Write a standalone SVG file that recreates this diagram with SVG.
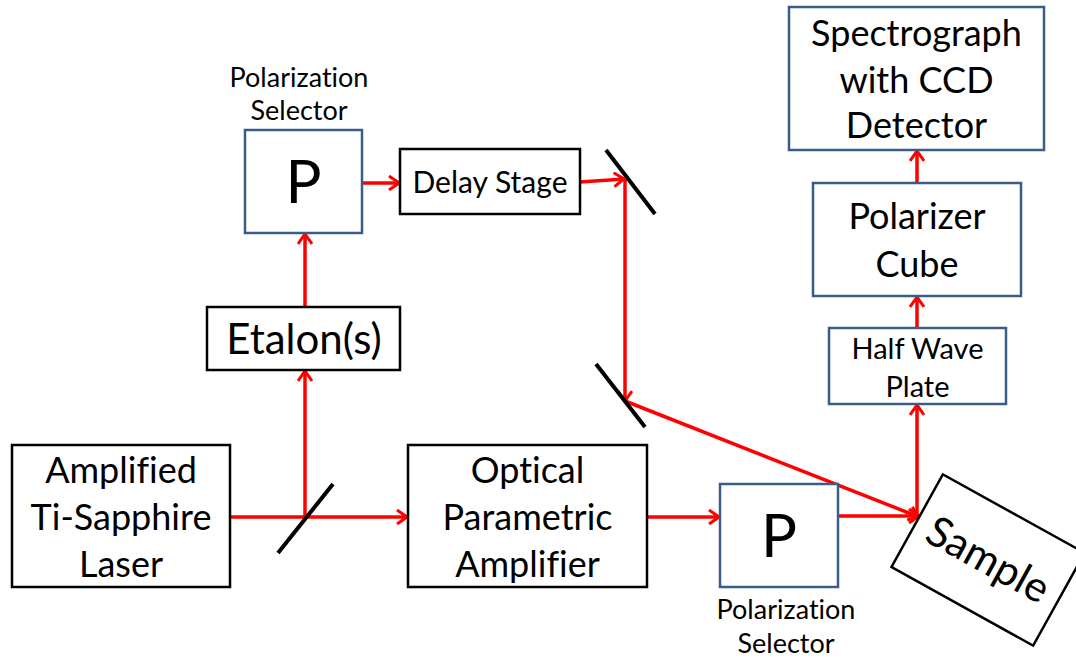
<svg xmlns="http://www.w3.org/2000/svg" width="1076" height="661" viewBox="0 0 1076 661">
<defs>
<style>
.k{fill:#fff;stroke:#000;stroke-width:2.5}
.b{fill:#fff;stroke:#385D8A;stroke-width:2.5}
.t{font-family:Lato,"Liberation Sans",sans-serif;fill:#000;text-anchor:middle;font-variant-ligatures:none}
.r{stroke:#f00;stroke-width:3.5;fill:none}
.m{stroke:#000;stroke-width:4;fill:none}
</style>
<marker id="a" viewBox="0 0 12 16" refX="11" refY="8" markerWidth="12" markerHeight="16" markerUnits="userSpaceOnUse" orient="auto">
<path d="M1,1 L11,8 L1,15" fill="none" stroke="#f00" stroke-width="3"/>
</marker>
</defs>
<rect width="1076" height="661" fill="#fff"/>
<g id="connectors">
<line class="r" x1="230" y1="517" x2="407" y2="517" marker-end="url(#a)"/>
<line class="r" x1="305" y1="517" x2="305" y2="371" marker-end="url(#a)"/>
<line class="r" x1="305" y1="307" x2="305" y2="234" marker-end="url(#a)"/>
<line class="r" x1="362" y1="183" x2="399" y2="183" marker-end="url(#a)"/>
<line class="r" x1="580" y1="182" x2="624" y2="179" marker-end="url(#a)"/>
<line class="r" x1="625" y1="179" x2="625" y2="401" marker-end="url(#a)"/>
<line class="r" x1="625" y1="401" x2="919" y2="517" marker-end="url(#a)"/>
<line class="r" x1="647" y1="517" x2="719" y2="517" marker-end="url(#a)"/>
<line class="r" x1="838" y1="516" x2="919" y2="516" marker-end="url(#a)"/>
<line class="r" x1="917" y1="517" x2="917" y2="405" marker-end="url(#a)"/>
<line class="r" x1="917" y1="328" x2="917" y2="297" marker-end="url(#a)"/>
<line class="r" x1="917" y1="183" x2="917" y2="151" marker-end="url(#a)"/>
</g>
<g id="mirrors">
<line class="m" x1="278" y1="553" x2="333" y2="484"/>
<line class="m" x1="606" y1="150" x2="655" y2="214"/>
<line class="m" x1="596" y1="364" x2="645" y2="427"/>
</g>
<g id="polsel1">
<rect class="b" x="245" y="130" width="117" height="103"/>
<text class="t" x="303.5" y="203" font-size="60">P</text>
<text class="t" x="299" y="87" font-size="27">Polarization</text>
<text class="t" x="299" y="120" font-size="27">Selector</text>
</g>
<g id="delay">
<rect class="k" x="400" y="149" width="180" height="65"/>
<text class="t" x="490" y="193" font-size="30">Delay Stage</text>
</g>
<g id="etalon">
<rect class="k" x="207" y="307" width="193" height="63"/>
<text class="t" x="304" y="354" font-size="42">Etalon(s)</text>
</g>
<g id="laser">
<rect class="k" x="12" y="445" width="218" height="142"/>
<text class="t" x="121" y="483" font-size="36">Amplified</text>
<text class="t" x="121" y="530" font-size="36">Ti-Sapphire</text>
<text class="t" x="121" y="577" font-size="36">Laser</text>
</g>
<g id="opa">
<rect class="k" x="408" y="445" width="239" height="142"/>
<text class="t" x="527.5" y="483" font-size="36">Optical</text>
<text class="t" x="527.5" y="530" font-size="36">Parametric</text>
<text class="t" x="527.5" y="577" font-size="36">Amplifier</text>
</g>
<g id="polsel2">
<rect class="b" x="720" y="484" width="118" height="103"/>
<text class="t" x="779" y="557" font-size="60">P</text>
<text class="t" x="786" y="619" font-size="27">Polarization</text>
<text class="t" x="786" y="653" font-size="27">Selector</text>
</g>
<g id="sample" transform="translate(988 560) rotate(29)">
<rect class="k" x="-81" y="-53" width="162" height="106"/>
<text class="t" x="0" y="14" font-size="42">Sample</text>
</g>
<g id="hwp">
<rect class="b" x="829" y="328" width="177" height="76"/>
<text class="t" x="917.5" y="359" font-size="29">Half Wave</text>
<text class="t" x="917.5" y="397" font-size="29">Plate</text>
</g>
<g id="cube">
<rect class="b" x="813" y="183" width="208" height="113"/>
<text class="t" x="917" y="229" font-size="36">Polarizer</text>
<text class="t" x="917" y="277" font-size="36">Cube</text>
</g>
<g id="spectro">
<rect class="b" x="789" y="7" width="255" height="143"/>
<text class="t" x="916.5" y="46" font-size="36">Spectrograph</text>
<text class="t" x="916.5" y="93" font-size="36">with CCD</text>
<text class="t" x="916.5" y="138" font-size="36">Detector</text>
</g>
</svg>
